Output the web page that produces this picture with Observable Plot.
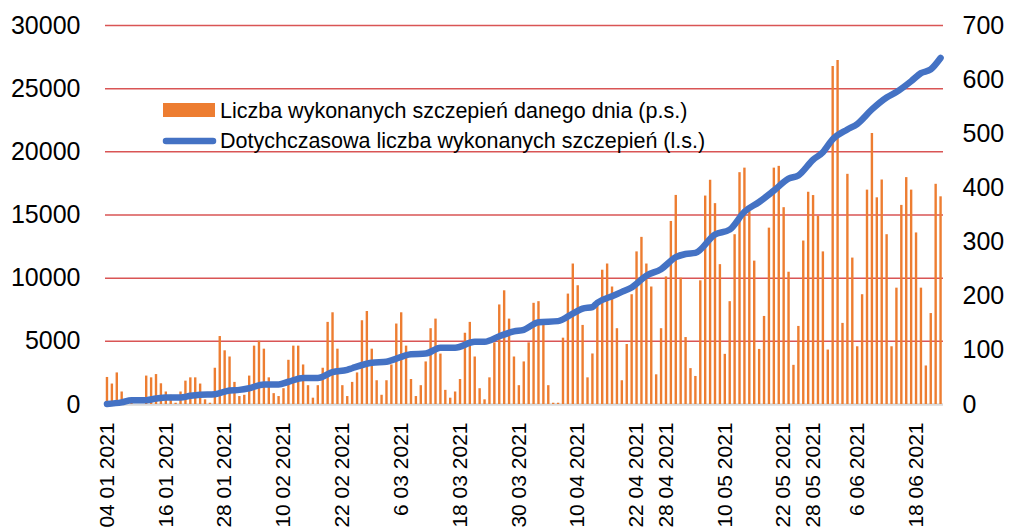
<!DOCTYPE html>
<html><head><meta charset="utf-8">
<script src="https://cdn.jsdelivr.net/npm/d3@7"></script>
<script src="https://cdn.jsdelivr.net/npm/@observablehq/plot@0.6"></script>
<style>
body{margin:0;background:#fff;}
#chart{position:relative;width:1014px;height:531px;overflow:hidden;}
</style></head><body><div id="chart"></div>
<script>
// Daily vaccinations, one value per day starting 04 01 2021 (left scale)
const dailyVaccinations = [
  2140,1620,2500,990,370,370,0,0,2250,2110,
  2370,1640,990,730,100,990,1850,2110,2110,1620,
  370,100,2870,5380,4250,3760,1750,630,730,2250,
  4620,5010,4380,2110,860,630,1250,3500,4620,4620,
  3130,1490,500,1490,2870,6500,7260,4380,1490,630,
  1750,2500,6630,7360,4380,1880,730,1880,3130,6370,
  7260,4620,1980,630,1490,3370,6000,6760,3990,1120,
  500,990,1980,5640,6500,3760,1250,370,2110,4880,
  7880,9000,6760,3760,1490,3370,4880,8010,8140,6320,
  1490,100,100,5250,8740,11120,9400,6260,2110,4000,
  7900,10630,11120,9300,6000,1880,4750,8690,12080,13230,
  11120,9300,2350,6000,10100,14490,16550,10000,5300,2840,
  2220,9790,16500,17750,15900,11070,3970,8140,13440,18350,
  18710,15270,11350,4360,6970,13960,18710,18850,15580,10470,
  3100,6180,12940,16800,16540,14900,12080,4310,26750,27220,
  6420,18220,11590,4570,8690,16970,21450,16360,17770,13440,
  4570,9210,15760,17960,16970,13580,9210,3050,7200,17430,
  16440
];
// Cumulative vaccinations read at selected days (right scale)
const cumulativeDays = [0,3,5,8,10,12,15,17,19,22,25,27,29,32,35,37,40,43,46,49,50,54,57,62,65,68,71,75,77,80,83,85,88,92,95,97,99,100,103,105,107,110,113,116,118,120,124,127,130,133,136,139,141,144,146,148,151,153,156,159,161,164,166,168,170];
const cumulativeValues = [1,4,8,8,11,13,13,16,18,19,26,27,30,37,37,42,49,49,60,64,67,77,79,93,94,105,105,116,116,126,135,138,152,154,168,177,180,188,200,208,216,238,250,272,278,280,314,323,356,374,395,417,423,452,466,490,508,518,545,567,577,597,612,619,640];
// Axis tick labels
const tickDays = [0,12,24,36,48,60,72,84,96,108,114,126,138,144,153,165];
const tickLabels = ["04 01 2021","16 01 2021","28 01 2021","10 02 2021","22 02 2021","6 03 2021","18 03 2021","30 03 2021","10 04 2021","22 04 2021","28 04 2021","10 05 2021","22 05 2021","28 05 2021","6 06 2021","18 06 2021"];
const leftTicks = [0,5000,10000,15000,20000,25000,30000];
const rightTicks = [0,100,200,300,400,500,600,700];
const legendLabels = ["Liczba wykonanych szczepień danego dnia (p.s.)","Dotychczasowa liczba wykonanych szczepień (l.s.)"];

const LEFT_MAX = 30000, RIGHT_MAX = 700, k = LEFT_MAX / RIGHT_MAX;
const bars = dailyVaccinations.map((v, i) => ({day: i, value: v}));
const line = cumulativeDays.map((d, i) => ({day: d, value: cumulativeValues[i] * k}));
const FONT = "'Liberation Sans', Arial, sans-serif";

const plot = Plot.plot({
  width: 1014, height: 531,
  marginLeft: 105, marginRight: 71, marginTop: 25, marginBottom: 127,
  style: {fontFamily: FONT, background: "#fff", color: "#000", overflow: "visible"},
  x: {type: "linear", domain: [-0.3, 170.6]},
  y: {domain: [0, LEFT_MAX]},
  marks: [
    Plot.ruleY(leftTicks.filter(d => d > 0), {stroke: "#d95555", strokeWidth: 1.5}),
    Plot.ruleY([0], {stroke: "#d9d9d9", strokeWidth: 2.5}),
    Plot.ruleX(bars, {x: "day", y1: 0, y2: "value", stroke: "#ED7D31", strokeWidth: 2.4}),
    Plot.line(line, {x: "day", y: "value", stroke: "#4472C4", strokeWidth: 6.5, curve: "monotone-x", strokeLinecap: "round", strokeLinejoin: "round"}),
    Plot.axisY({ticks: leftTicks, tickFormat: d => String(d), tickSize: 0, tickPadding: 25, fontSize: 25, label: null}),
    Plot.axisY({anchor: "right", ticks: rightTicks.map(v => v * k), tickFormat: d => String(Math.round(d / k)), tickSize: 0, tickPadding: 19, fontSize: 25, label: null}),
    Plot.axisX({ticks: tickDays, tickFormat: d => tickLabels[tickDays.indexOf(d)], tickRotate: -90, tickSize: 0, tickPadding: 18, fontSize: 21, label: null})
  ]
});
document.getElementById("chart").appendChild(plot);

// Legend inside the plot area
const svg = d3.select(plot);
const lg = svg.append("g").attr("font-family", FONT).attr("font-size", 21.5).attr("fill", "#000").attr("text-anchor", "start");
lg.append("rect").attr("x", 163).attr("y", 103).attr("width", 52).attr("height", 14).attr("fill", "#ED7D31");
lg.append("text").attr("x", 220).attr("y", 110).attr("dy", "0.35em").text(legendLabels[0]);
lg.append("line").attr("x1", 166).attr("x2", 213).attr("y1", 141).attr("y2", 141)
  .attr("stroke", "#4472C4").attr("stroke-width", 6.5).attr("stroke-linecap", "round");
lg.append("text").attr("x", 220).attr("y", 140).attr("dy", "0.35em").text(legendLabels[1]);
</script></body></html>
